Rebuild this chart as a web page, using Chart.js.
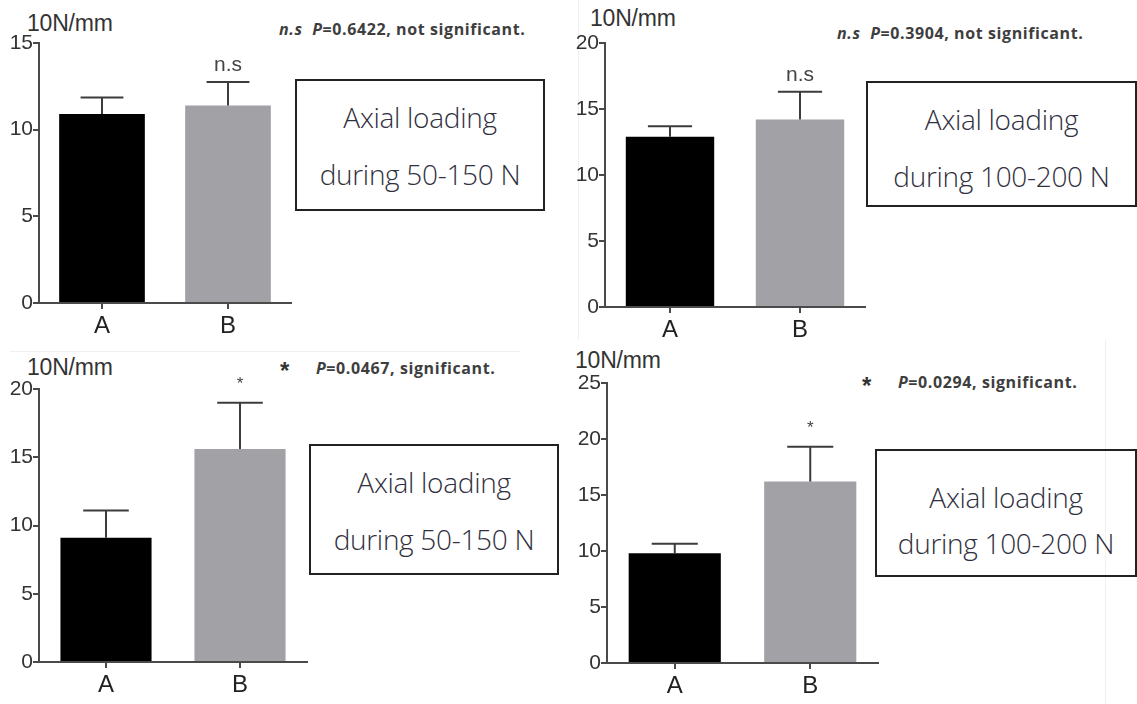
<!DOCTYPE html>
<html>
<head>
<meta charset="utf-8">
<script src="https://cdn.jsdelivr.net/npm/chart.js@4.4.0/dist/chart.umd.min.js"></script>
<style>
  body { margin: 0; background: #fff; width: 1137px; height: 704px; overflow: hidden; position: relative; font-family: "Liberation Sans", Arial, sans-serif; }
  .abs { position: absolute; }
  canvas { position: absolute; }
  .unit { font-size: 23px; line-height: 24px; color: #333; letter-spacing: -0.2px; white-space: nowrap; }
  .ptxt { font-family: "Open Sans", sans-serif; font-weight: 700; font-size: 16px; line-height: 18px; color: #3e3e3e; white-space: nowrap; letter-spacing: 0.6px; }
  .star { font-family: "Liberation Sans", sans-serif; font-weight: 700; font-size: 24px; line-height: 24px; color: #333; }
  .box { border: 2px solid #222; box-sizing: border-box; font-family: "Open Sans", sans-serif; font-weight: 300; font-size: 28px; color: #303040; text-align: center; white-space: nowrap; letter-spacing: -0.3px; }
  .sep { background: #f0f0f0; }
</style>
</head>
<body>

<div class="abs sep" style="left:10px;top:351px;width:510px;height:1px"></div>
<div class="abs sep" style="left:578px;top:0;width:1px;height:340px"></div>
<div class="abs sep" style="left:1105px;top:340px;width:1px;height:364px"></div>

<div class="abs unit" style="left:27px;top:11px">10N/mm</div>
<div class="abs unit" style="left:590px;top:6px">10N/mm</div>
<div class="abs unit" style="left:27px;top:355px">10N/mm</div>
<div class="abs unit" style="left:575px;top:348px">10N/mm</div>

<div class="abs ptxt" style="left:279px;top:20px"><i>n.s</i>&nbsp; <i>P</i>=0.6422, not significant.</div>
<div class="abs ptxt" style="left:837px;top:24px"><i>n.s</i>&nbsp; <i>P</i>=0.3904, not significant.</div>
<div class="abs star" style="left:280px;top:359px">*</div>
<div class="abs ptxt" style="left:316px;top:359px"><i>P</i>=0.0467, significant.</div>
<div class="abs star" style="left:862px;top:374px">*</div>
<div class="abs ptxt" style="left:898px;top:373px"><i>P</i>=0.0294, significant.</div>

<div class="abs box" style="left:295px;top:79px;width:250px;height:132px;line-height:57px;padding-top:8px">Axial loading<br>during 50-150 N</div>
<div class="abs box" style="left:866px;top:81px;width:271px;height:126px;line-height:57px;padding-top:8px">Axial loading<br>during 100-200 N</div>
<div class="abs box" style="left:309px;top:444px;width:250px;height:131px;line-height:57px;padding-top:8px">Axial loading<br>during 50-150 N</div>
<div class="abs box" style="left:875px;top:449px;width:262px;height:128px;line-height:46px;padding-top:23px">Axial loading<br>during 100-200 N</div>

<canvas id="c1"></canvas>
<canvas id="c2"></canvas>
<canvas id="c3"></canvas>
<canvas id="c4"></canvas>

<script>
const categories = ['A', 'B'];
const barColors = ['#000000', '#a2a2a6'];

// stiffness (10N/mm), mean and upper error
const means50a = [10.9, 11.4];
const errs50a = [0.95, 1.35];
const means100a = [12.9, 14.2];
const errs100a = [0.8, 2.1];
const means50b = [9.1, 15.6];
const errs50b = [2.0, 3.4];
const means100b = [9.8, 16.2];
const errs100b = [0.85, 3.1];

const yMaxes = [15, 20, 20, 25];
const marks = ['n.s', 'n.s', '*', '*'];

// plot area of each panel on the page
const plots = [
  { l: 39, t: 43, r: 291, b: 303 },
  { l: 605, t: 43, r: 865, b: 307 },
  { l: 39, t: 389, r: 307, b: 662 },
  { l: 607, t: 383, r: 878, b: 663 }
];

const errorBars = {
  id: 'errorBars',
  afterDatasetsDraw(chart, args, opts) {
    const ctx = chart.ctx;
    const y = chart.scales.y;
    const meta = chart.getDatasetMeta(0);
    const vals = chart.data.datasets[0].data;
    ctx.save();
    ctx.strokeStyle = '#3c3c3c';
    ctx.lineWidth = 2;
    let lastCap = 0;
    meta.data.forEach((bar, i) => {
      const top = y.getPixelForValue(vals[i]);
      const cap = y.getPixelForValue(vals[i] + opts.errors[i]);
      const half = bar.width * 0.25;
      ctx.beginPath();
      ctx.moveTo(bar.x, top);
      ctx.lineTo(bar.x, cap);
      ctx.moveTo(bar.x - half, cap);
      ctx.lineTo(bar.x + half, cap);
      ctx.stroke();
      lastCap = cap;
    });
    const bx = meta.data[1].x;
    ctx.fillStyle = '#444';
    ctx.textAlign = 'center';
    ctx.textBaseline = 'alphabetic';
    if (opts.mark === '*') {
      ctx.font = '17px "Liberation Sans"';
      ctx.fillText('*', bx, lastCap - 14);
    } else {
      ctx.font = '21px "Liberation Sans"';
      ctx.fillText(opts.mark, bx, lastCap - 11);
    }
    ctx.restore();
  }
};

function makeChart(id, p, means, errs, yMax, mark) {
  const cv = document.getElementById(id);
  const w = (p.r - p.l) + 50;
  const h = (p.b - p.t) + 60;
  cv.width = w; cv.height = h;
  cv.style.left = (p.l - 40) + 'px';
  cv.style.top = (p.t - 20) + 'px';
  cv.style.width = w + 'px';
  cv.style.height = h + 'px';
  return new Chart(cv, {
    type: 'bar',
    data: {
      labels: categories,
      datasets: [{
        data: means,
        backgroundColor: barColors,
        borderWidth: 0,
        categoryPercentage: 1,
        barPercentage: 0.68
      }]
    },
    options: {
      responsive: false,
      animation: false,
      layout: { padding: { left: 0, top: 20, right: 10, bottom: 0 } },
      plugins: {
        legend: { display: false },
        tooltip: { enabled: false },
        errorBars: { errors: errs, mark: mark }
      },
      scales: {
        x: {
          grid: { display: true, drawOnChartArea: false, offset: false, tickLength: 6, color: '#4a4a4a', lineWidth: 2 },
          border: { color: '#4a4a4a', width: 2 },
          ticks: { color: '#222', font: { size: 24, family: 'Liberation Sans' }, padding: 3 },
          afterFit: (s) => { s.height = 40; }
        },
        y: {
          min: 0,
          max: yMax,
          grid: { drawOnChartArea: false, tickLength: 6, color: '#4a4a4a', lineWidth: 2 },
          border: { color: '#4a4a4a', width: 2 },
          ticks: { stepSize: 5, color: '#333', font: { size: 21, family: 'Liberation Sans' }, padding: 0 },
          afterFit: (s) => { s.width = 40; }
        }
      }
    },
    plugins: [errorBars]
  });
}

makeChart('c1', plots[0], means50a, errs50a, yMaxes[0], marks[0]);
makeChart('c2', plots[1], means100a, errs100a, yMaxes[1], marks[1]);
makeChart('c3', plots[2], means50b, errs50b, yMaxes[2], marks[2]);
makeChart('c4', plots[3], means100b, errs100b, yMaxes[3], marks[3]);
</script>
</body>
</html>
